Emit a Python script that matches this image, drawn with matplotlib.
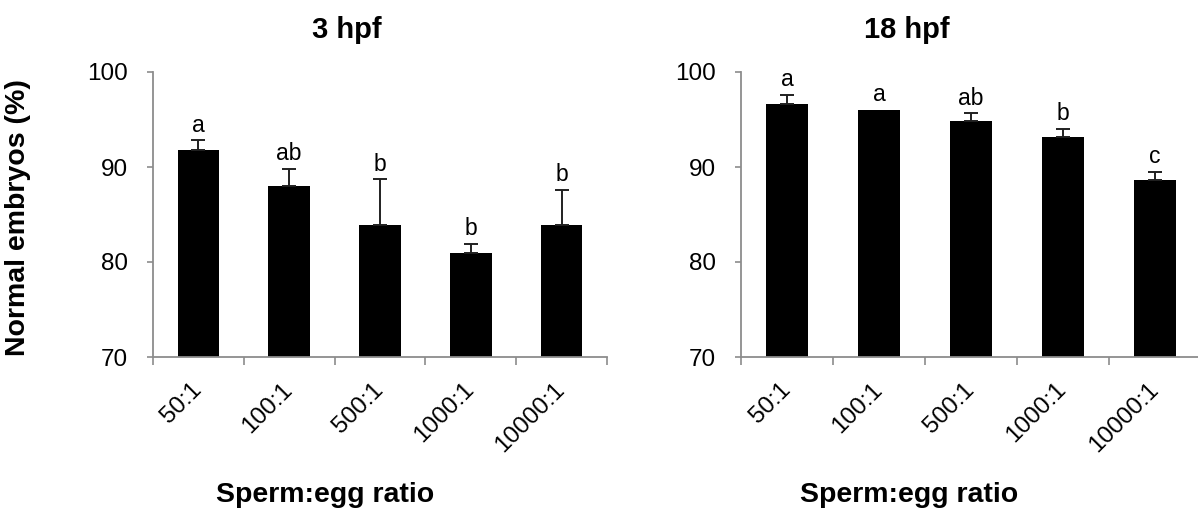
import numpy as np
import matplotlib.pyplot as plt

plt.rcParams['font.family'] = ['Liberation Sans', 'DejaVu Sans']

# Veriler
oranlar = ["50:1", "100:1", "500:1", "1000:1", "10000:1"]

ort_3hpf = [91.8, 88.0, 83.9, 80.9, 83.9]
hata_3hpf = [1.0, 1.8, 4.8, 1.0, 3.7]
harf_3hpf = ["a", "ab", "b", "b", "b"]

ort_18hpf = [96.6, 96.0, 94.8, 93.2, 88.6]
hata_18hpf = [1.0, 0.0, 0.85, 0.8, 0.9]
harf_18hpf = ["a", "a", "ab", "b", "c"]

W, H = 1198, 521
fig = plt.figure(figsize=(W / 100, H / 100), dpi=100)

gri = "#8c8c8c"


def panel(ax, ortalama, hata, harfler):
    x = np.arange(len(oranlar))
    ax.bar(x, ortalama, width=0.46, color="black")
    # sadece üst hata çubukları (sıfır olanlar çizilmez)
    for xi, m, e in zip(x, ortalama, hata):
        if e > 0:
            ax.errorbar(xi, m, yerr=[[0], [e]], fmt="none", ecolor="#202020",
                        elinewidth=1.4, capsize=5, capthick=1.4)
    for xi, m, e, h in zip(x, ortalama, hata, harfler):
        ax.text(xi, m + e + 0.4, h, ha="center", va="bottom", fontsize=16.5)
    ax.set_ylim(70, 100)
    ax.set_xlim(-0.5, 4.5)
    ax.set_yticks([70, 80, 90, 100])
    ax.tick_params(axis="y", direction="out", length=4.3, width=1.2,
                   color=gri, labelsize=17.5, pad=13.5)
    # ana tikler kategori sınırlarında, etiketler ortada
    ax.set_xticks(np.arange(-0.5, 5, 1.0))
    ax.set_xticklabels([])
    ax.tick_params(axis="x", which="major", direction="out", length=5.5,
                   width=1.2, color=gri)
    ax.set_xticks(x, minor=True)
    ax.set_xticklabels(oranlar, minor=True, rotation=45, ha="right",
                       va="center", rotation_mode="anchor", fontsize=17.5)
    ax.tick_params(axis="x", which="minor", length=0, pad=21)
    for s in ["top", "right"]:
        ax.spines[s].set_visible(False)
    for s in ["left", "bottom"]:
        ax.spines[s].set_color(gri)
        ax.spines[s].set_linewidth(1.3)


ax1 = fig.add_axes([153 / W, 1 - 357 / H, 454 / W, 285 / H])
panel(ax1, ort_3hpf, hata_3hpf, harf_3hpf)

ax2 = fig.add_axes([741 / W, 1 - 357 / H, 460 / W, 285 / H])
panel(ax2, ort_18hpf, hata_18hpf, harf_18hpf)

fig.text(347 / W, 1 - 30 / H, "3 hpf", ha="center", va="center",
         fontsize=21, fontweight="bold")
fig.text(907 / W, 1 - 30 / H, "18 hpf", ha="center", va="center",
         fontsize=21, fontweight="bold")
fig.text(325 / W, 1 - 495 / H, "Sperm:egg ratio", ha="center", va="center",
         fontsize=20.5, fontweight="bold")
fig.text(909 / W, 1 - 495 / H, "Sperm:egg ratio", ha="center", va="center",
         fontsize=20.5, fontweight="bold")
fig.text(18 / W, 1 - 218 / H, "Normal embryos (%)", ha="center", va="center",
         rotation=90, fontsize=20.5, fontweight="bold")

fig.savefig("out.png", dpi=100)
